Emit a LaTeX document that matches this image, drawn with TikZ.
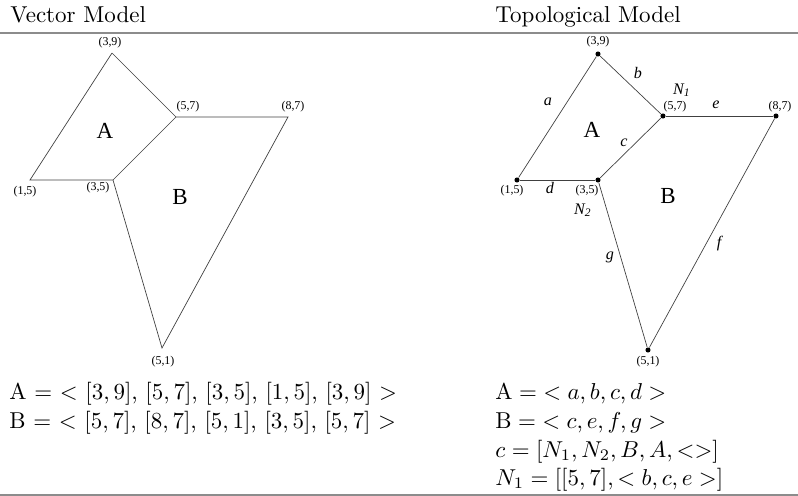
\documentclass[tikz,border=0pt]{standalone}
\usepackage{fontspec}
\newfontfamily\tms{Liberation Serif}
\begin{document}
\begin{tikzpicture}[x=0.435pt,y=-0.435pt,
  edge/.style={draw=black!75, line width=0.3pt},
  crd/.style={font=\tms\fontsize{5.2}{6}\selectfont, inner sep=0pt},
  elab/.style={font=\tms\itshape\fontsize{7}{8}\selectfont, inner sep=0pt},
  reg/.style={font=\tms\fontsize{10}{12}\selectfont, inner sep=0pt},
  eqn/.style={anchor=base west, inner sep=0pt},
  ttl/.style={anchor=base west, inner sep=0pt},
  vdot/.style={circle, fill=black, inner sep=0pt, minimum size=2.2pt},
  rulel/.style={draw=black!45, line width=0.8pt}]
\useasboundingbox (0,0) rectangle (798,496);
% rules
\coordinate (rtl) at (0,33); \coordinate (rtr) at (798,33);
\coordinate (rbl) at (0,495); \coordinate (rbr) at (798,495);
\draw[rulel] (rtl) -- (rtr);
\draw[rulel] (rbl) -- (rbr);
% titles
\node[ttl] (t1) at (10,23) {Vector Model};
\node[ttl] (t2) at (495,23) {Topological Model};
% ---------- left: vector model ----------
\coordinate (L39) at (112,53);
\coordinate (L57) at (176,117);
\coordinate (L87) at (288,117);
\coordinate (L15) at (30,180);
\coordinate (L35) at (113,180);
\coordinate (L51) at (162,348);
\draw[edge] (L39) -- (L57) -- (L87) -- (L51) -- (L35) -- (L15) -- (L39);
\draw[edge] (L35) -- (L57);
\node[crd] (lc39) at (110,43) {(3,9)};
\node[crd] (lc57) at (188,107) {(5,7)};
\node[crd] (lc87) at (293,107) {(8,7)};
\node[crd] (lc15) at (25,192) {(1,5)};
\node[crd] (lc35) at (98,188) {(3,5)};
\node[crd] (lc51) at (163,362) {(5,1)};
\node[reg] (lA) at (105,131) {A};
\node[reg] (lB) at (180,197) {B};
% ---------- right: topological model ----------
\node[vdot] (R39) at (598,54) {};
\node[vdot] (R57) at (663,116) {};
\node[vdot] (R87) at (776,116) {};
\node[vdot] (R15) at (517,180) {};
\node[vdot] (R35) at (598,180) {};
\node[vdot] (R51) at (648,350) {};
\draw[edge] (R15) -- (R39);
\draw[edge] (R39) -- (R57);
\draw[edge] (R57) -- (R35);
\draw[edge] (R15) -- (R35);
\draw[edge] (R57) -- (R87);
\draw[edge] (R87) -- (R51);
\draw[edge] (R35) -- (R51);
\node[crd] (rc39) at (598,42) {(3,9)};
\node[crd] (rc57) at (675,107) {(5,7)};
\node[crd] (rc87) at (780,107) {(8,7)};
\node[crd] (rc15) at (512,191) {(1,5)};
\node[crd] (rc35) at (587,191) {(3,5)};
\node[crd] (rc51) at (648,362) {(5,1)};
\node[elab] (ea) at (548,102) {a};
\node[elab] (eb) at (638,73) {b};
\node[elab] (ec) at (624,143) {c};
\node[elab] (ed) at (550,188) {d};
\node[elab] (ee) at (716,105) {e};
\node[elab] (ef) at (719,244) {f};
\node[elab] (eg) at (610,257) {g};
\node[elab] (n1) at (682,90) {N\textsubscript{1}};
\node[elab] (n2) at (583,210) {N\textsubscript{2}};
\node[reg] (rA) at (592,130) {A};
\node[reg] (rB) at (668,196) {B};
% ---------- equations ----------
\node[eqn] (la) at (9,400) {A $=$ $<$ $[3,9]$, $[5,7]$, $[3,5]$, $[1,5]$, $[3,9]$ $>$};
\node[eqn] (lb) at (9,428) {B $=$ $<$ $[5,7]$, $[8,7]$, $[5,1]$, $[3,5]$, $[5,7]$ $>$};
\node[eqn] (ra) at (495,400) {$\mathrm{A} = \;<a,b,c,d>$};
\node[eqn] (rb) at (495,428) {$\mathrm{B} = \;<c,e,f,g>$};
\node[eqn] (rc) at (495,457) {$c = [N_1,N_2,B,A,<>]$};
\node[eqn] (rn) at (495,485) {$N_1 = [[5,7],<b,c,e>]$};
\end{tikzpicture}
\end{document}
